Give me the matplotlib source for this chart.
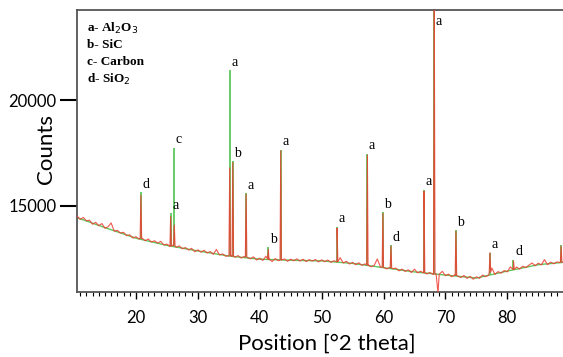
import matplotlib
matplotlib.use("Agg")
import matplotlib.pyplot as plt
import numpy as np

# measured background (noisy), every 0.5 deg from 10.5 to 89.0
bg_x = np.arange(10.5, 89.01, 0.5)
bg_counts = [
    14520, 14370, 14460, 14300, 14330, 14140, 14230, 14070, 14170, 13950,
    14020, 14200, 13810, 13850, 13720, 13760, 13600, 13640, 13490, 13550,
    13440, 13480, 13360, 13440, 13300, 13360, 13250, 13330, 13160, 13200,
    13090, 13160, 13050, 13120, 12980, 13040, 12920, 13000, 12840, 12930,
    12820, 12910, 12780, 12850, 12720, 12950, 12690, 12740, 12630, 12650,
    12640, 12580, 12660, 12540, 12620, 12570, 12510, 12600, 12450, 12540,
    12430, 12630, 12470, 12380, 12520, 12420, 12455, 12500, 12390, 12490,
    12415, 12505, 12400, 12490, 12375, 12470, 12400, 12475, 12360, 12460,
    12370, 12450, 12340, 12420, 12370, 12560, 12310, 12390, 12260, 12340,
    12230, 12320, 12200, 12270, 12200, 12130, 12200, 12500, 12120, 12100,
    12030, 12100, 12040, 12070, 11940, 12020, 11910, 11990, 11860, 12020,
    11845, 11920, 11855, 11790, 11865, 11770, 11795, 11780, 11915, 11710,
    11785, 11660, 11745, 11690, 11625, 11720, 11585, 11680, 11545, 11660,
    11585, 11740, 11665, 11740, 12075, 11770, 11905, 11830, 11955, 11890,
    12130, 12010, 12120, 12020, 12160, 12090, 12210, 12310, 12180, 12300,
    12220, 12470, 12230, 12350, 12270, 12360, 12330, 12350,
]

# smooth fitted background (green)
fit_x = [10.5, 15, 20, 25, 30, 35, 40, 45, 50, 55, 60, 65, 70, 75, 80, 85, 89]
fit_y = [14450, 13980, 13480, 13140, 12880, 12640, 12490, 12440, 12410, 12290,
         12090, 11890, 11740, 11600, 11930, 12230, 12340]

# peaks: position, reference stick top, measured top, phase label
peak_pos = [20.8, 25.6, 26.2, 35.15, 35.65, 37.8, 41.4, 43.4, 52.5, 57.4,
            59.9, 61.2, 66.55, 68.2, 71.7, 77.2, 81.0, 88.7]
stick_top = [15650, 14650, 17750, 21400, 17100, 15600, 13050, 17650, 14000, 17450,
             14700, 13150, 15750, 25000, 13850, 12800, 12450, 13150]
data_top = [15500, 14500, 14100, 16800, 17050, 15550, 12950, 17600, 13950, 17400,
            14650, 13100, 15700, 25000, 13800, 12800, 12400, 13100]
peak_label = ['d', 'a', 'c', 'a', 'b', 'a', 'b', 'a', 'a', 'a',
              'b', 'd', 'a', 'a', 'b', 'a', 'd', 'a']
dip_pos = 68.8
dip_val = 10900

legend_lines = [r'a- Al$_2$O$_3$', 'b- SiC', 'c- Carbon', r'd- SiO$_2$']

# build measured pattern: background + narrow peaks
base = np.interp(peak_pos, bg_x, bg_counts)
xs = list(bg_x)
ys = list(bg_counts)
for p, t, b in zip(peak_pos, data_top, base):
    xs += [p - 0.12, p, p + 0.12]
    ys += [b, t, b]
xs.append(dip_pos)
ys.append(dip_val)
order = np.argsort(xs)
xs = np.array(xs)[order]
ys = np.array(ys)[order]

fig = plt.figure(figsize=(5.63, 3.57), dpi=100)
ax = fig.add_axes([0.137, 0.182, 0.863, 0.79])

green = '#5cc85c'
red = '#f03a30'
ax.plot(fit_x, fit_y, color=green, lw=1.0, zorder=2)
ax.vlines(peak_pos, np.interp(peak_pos, fit_x, fit_y), stick_top, color=green, lw=1.3, zorder=2)
ax.plot(xs, ys, color=red, lw=0.8, alpha=0.85, zorder=3)

for p, t, lab in zip(peak_pos, stick_top, peak_label):
    ty = min(t, 23300)
    ax.text(p + 0.25, ty + 80, lab, fontsize=10, family='Liberation Serif',
            ha='left', va='bottom', zorder=4, clip_on=True)

for i, line in enumerate(legend_lines):
    ax.text(0.02, 0.935 - i * 0.06, line, transform=ax.transAxes, fontsize=9.5,
            family='Liberation Serif', fontweight='bold', va='center', ha='left')

ax.set_xlim(10.5, 89)
ax.set_ylim(10940, 24250)
ax.set_xticks([20, 30, 40, 50, 60, 70, 80])
ax.set_xticks(np.arange(11, 89, 1), minor=True)
ax.set_yticks([15000, 20000])
ax.tick_params(axis='x', which='major', direction='out', length=5, width=1, labelsize=12, pad=8)
ax.tick_params(axis='x', which='minor', direction='out', length=3, width=0.8)
ax.tick_params(axis='y', which='major', direction='out', length=12, width=1.5, labelsize=12, pad=3)
for lbl in ax.get_xticklabels() + ax.get_yticklabels():
    lbl.set_family('Lato')

ax.spines['right'].set_visible(False)
for s in ['left', 'bottom', 'top']:
    ax.spines[s].set_color('#555555')
    ax.spines[s].set_linewidth(1.3)

fig.text(46 / 563, 1 - 149 / 357, 'Counts', fontsize=16, family='Lato',
         rotation=90, ha='center', va='center')
fig.text(327 / 563, 1 - 344 / 357, 'Position [°2 theta]', fontsize=16, family='Lato',
         ha='center', va='center')

fig.savefig('out.png', dpi=100)
